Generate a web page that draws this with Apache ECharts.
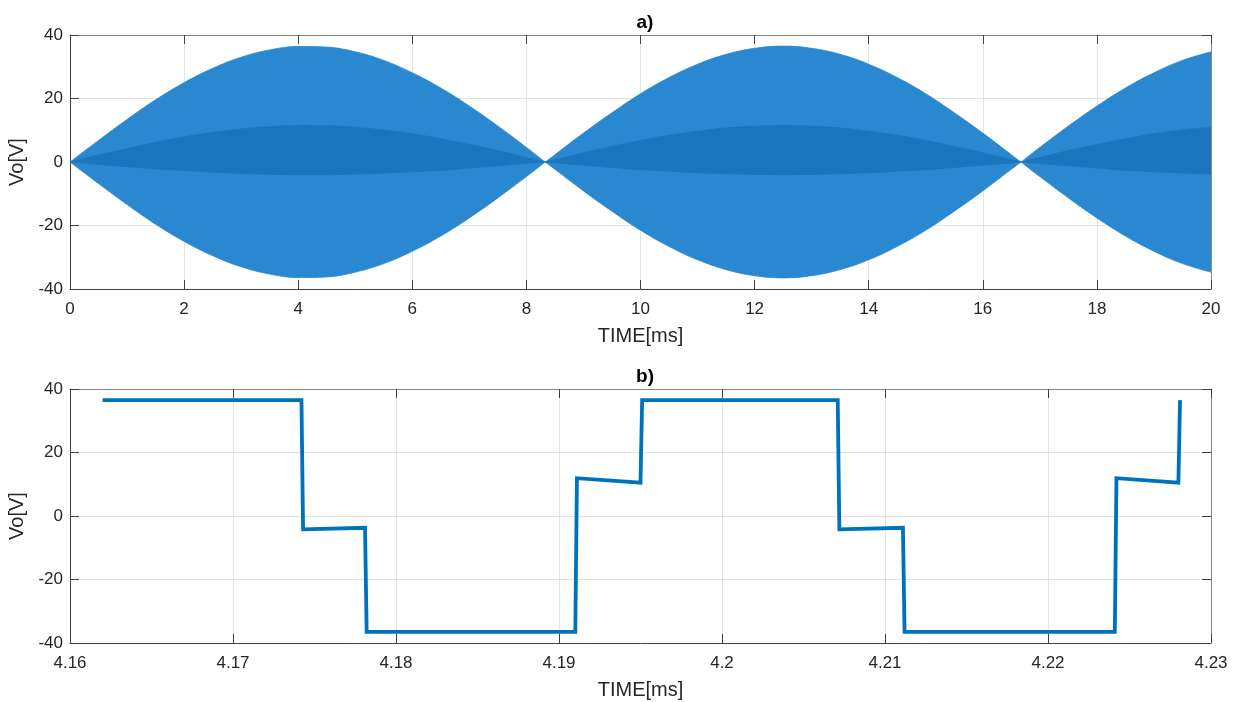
<!DOCTYPE html>
<html>
<head>
<meta charset="utf-8">
<script src="https://cdn.jsdelivr.net/npm/echarts@6/dist/echarts.min.js"></script>
<style>
    html, body { margin: 0; padding: 0; background: #fff; }
    #main { width: 1238px; height: 702px; }
</style>
</head>
<body>
<div id="main"></div>
<script>
// a) envelope of the dense PWM output
var timeA = [0, 0.5, 1, 1.5, 2, 2.5, 3, 3.5, 4, 4.5, 5, 5.5, 6, 6.5, 7, 7.5, 8, 8.33,
    8.5, 9, 9.5, 10, 10.5, 11, 11.5, 12, 12.5, 13, 13.5, 14, 14.5, 15, 15.5, 16, 16.5, 16.67,
    17, 17.5, 18, 18.5, 19, 19.5, 20];
var envTop = [0, 6.8, 13.4, 19.6, 25.0, 29.5, 33.0, 35.3, 36.4, 36.2, 34.7, 32.0, 28.1, 23.3, 17.6, 11.3, 4.6, 0,
    2.3, 9.1, 15.5, 21.5, 26.6, 30.8, 33.9, 35.8, 36.5, 35.8, 33.9, 30.8, 26.6, 21.5, 15.5, 9.1, 2.3, 0,
    4.6, 11.3, 17.6, 23.3, 28.1, 32.0, 34.7];
var envBottom = [0, -6.8, -13.4, -19.6, -25.0, -29.5, -33.0, -35.3, -36.4, -36.2, -34.7, -32.0, -28.1, -23.3, -17.6, -11.3, -4.6, 0,
    -2.3, -9.1, -15.5, -21.5, -26.6, -30.8, -33.9, -35.8, -36.5, -35.8, -33.9, -30.8, -26.6, -21.5, -15.5, -9.1, -2.3, 0,
    -4.6, -11.3, -17.6, -23.3, -28.1, -32.0, -34.7];
// darker inner band (middle levels)
var bandTop = [0, 2.2, 4.2, 6.2, 7.9, 9.3, 10.4, 11.1, 11.5, 11.4, 10.9, 10.1, 8.9, 7.3, 5.5, 3.6, 1.4, 0,
    0.7, 2.9, 4.9, 6.8, 8.4, 9.7, 10.7, 11.3, 11.5, 11.3, 10.7, 9.7, 8.4, 6.8, 4.9, 2.9, 0.7, 0,
    1.4, 3.6, 5.5, 7.3, 8.9, 10.1, 10.9];
var bandBottom = [0, -0.8, -1.5, -2.1, -2.7, -3.2, -3.6, -3.9, -4.0, -4.0, -3.8, -3.5, -3.1, -2.6, -1.9, -1.2, -0.5, 0,
    -0.3, -1.0, -1.7, -2.4, -2.9, -3.4, -3.7, -3.9, -4.0, -3.9, -3.7, -3.4, -2.9, -2.4, -1.7, -1.0, -0.3, 0,
    -0.5, -1.2, -1.9, -2.6, -3.1, -3.5, -3.8];

// b) zoomed step waveform
var timeB = [4.1620, 4.1742, 4.1743, 4.1781, 4.1782, 4.1910, 4.1911, 4.1950, 4.1951, 4.2071,
    4.2072, 4.2111, 4.2112, 4.2241, 4.2242, 4.2280, 4.2281];
var voltB = [36.5, 36.5, -4.2, -3.7, -36.5, -36.5, 11.9, 10.5, 36.5, 36.5,
    -4.2, -3.7, -36.5, -36.5, 11.9, 10.5, 36.5];

var yTicks = [-40, 40, 20];
var xRangeA = [0, 20, 2];
var xRangeB = [4.16, 4.23, 0.01];

var textColor = '#262626';
var font = 'Liberation Sans, Arial, sans-serif';

function pairs(xs, ys) {
    return xs.map(function (x, i) { return [x, ys[i]]; });
}

// break the envelope at each zero crossing so the cusp stays sharp
function lobes(xs, ys) {
    var out = [];
    for (var i = 0; i < xs.length; i++) {
        out.push([xs[i], ys[i]]);
        if (ys[i] === 0 && i > 0 && i < xs.length - 1) {
            out.push([xs[i], '-']);
            out.push([xs[i], ys[i]]);
        }
    }
    return out;
}

function xAxisFor(grid, range, digits) {
    return [{
        type: 'value', gridIndex: grid, min: range[0], max: range[1], interval: range[2],
        name: 'TIME[ms]', nameLocation: 'middle', nameGap: 37,
        nameTextStyle: { color: textColor, fontSize: 20, fontFamily: font },
        axisLine: { onZero: false, lineStyle: { color: '#404040', width: 1 } },
        axisTick: { inside: true, length: 9, lineStyle: { color: '#404040' } },
        axisLabel: {
            color: textColor, fontSize: 17, fontFamily: font, margin: 12,
            formatter: function (v) { return String(+v.toFixed(digits)); }
        },
        splitLine: { show: true, lineStyle: { color: '#e3e3e3' } }
    }, {
        type: 'value', gridIndex: grid, position: 'top', min: range[0], max: range[1], interval: range[2],
        axisLine: { onZero: false, lineStyle: { color: '#888888' } },
        axisTick: { inside: true, length: 9, lineStyle: { color: '#404040' } },
        axisLabel: { show: false },
        splitLine: { show: false }
    }];
}

function yAxisFor(grid) {
    return [{
        type: 'value', gridIndex: grid, min: yTicks[0], max: yTicks[1], interval: yTicks[2],
        name: 'Vo[V]', nameLocation: 'middle', nameGap: 38,
        nameTextStyle: { color: textColor, fontSize: 20, fontFamily: font },
        axisLine: { show: true, onZero: false, lineStyle: { color: '#404040' } },
        axisTick: { show: true, inside: true, length: 9, lineStyle: { color: '#404040' } },
        axisLabel: { color: textColor, fontSize: 17, fontFamily: font, margin: 7 },
        splitLine: { show: true, lineStyle: { color: '#e3e3e3' } }
    }, {
        type: 'value', gridIndex: grid, position: 'right', min: yTicks[0], max: yTicks[1], interval: yTicks[2],
        axisLine: { show: true, onZero: false, lineStyle: { color: '#888888' } },
        axisTick: { show: true, inside: true, length: 9, lineStyle: { color: '#404040' } },
        axisLabel: { show: false },
        splitLine: { show: false }
    }];
}

function area(data, color) {
    return {
        type: 'line', xAxisIndex: 0, yAxisIndex: 0, data: data,
        symbol: 'none', silent: true, smooth: 0.4, connectNulls: false,
        lineStyle: { width: 0.8, color: color },
        areaStyle: { color: color, opacity: 1 }
    };
}

var chart = echarts.init(document.getElementById('main'));
chart.setOption({
    animation: false,
    backgroundColor: '#fff',
    title: [
        { text: 'a)', left: 640, top: 8, textAlign: 'center',
          textStyle: { fontSize: 19, fontWeight: 'bold', color: '#000', fontFamily: font } },
        { text: 'b)', left: 640, top: 362, textAlign: 'center',
          textStyle: { fontSize: 19, fontWeight: 'bold', color: '#000', fontFamily: font } }
    ],
    grid: [
        { left: 70, top: 35, width: 1141, height: 254, outerBoundsMode: 'none', containLabel: false },
        { left: 70, top: 389, width: 1141, height: 254, outerBoundsMode: 'none', containLabel: false }
    ],
    xAxis: xAxisFor(0, xRangeA, 0).concat(xAxisFor(1, xRangeB, 2)),
    yAxis: yAxisFor(0).concat(yAxisFor(1)),
    series: [
        area(lobes(timeA, envTop), '#2a88d0'),
        area(lobes(timeA, envBottom), '#2a88d0'),
        area(lobes(timeA, bandTop), '#1b75bd'),
        area(lobes(timeA, bandBottom), '#1b75bd'),
        {
            type: 'line', xAxisIndex: 2, yAxisIndex: 2,
            data: pairs(timeB, voltB),
            symbol: 'none', silent: true,
            lineStyle: { width: 3.8, color: '#0072BD', join: 'miter' }
        }
    ]
});
</script>
</body>
</html>
